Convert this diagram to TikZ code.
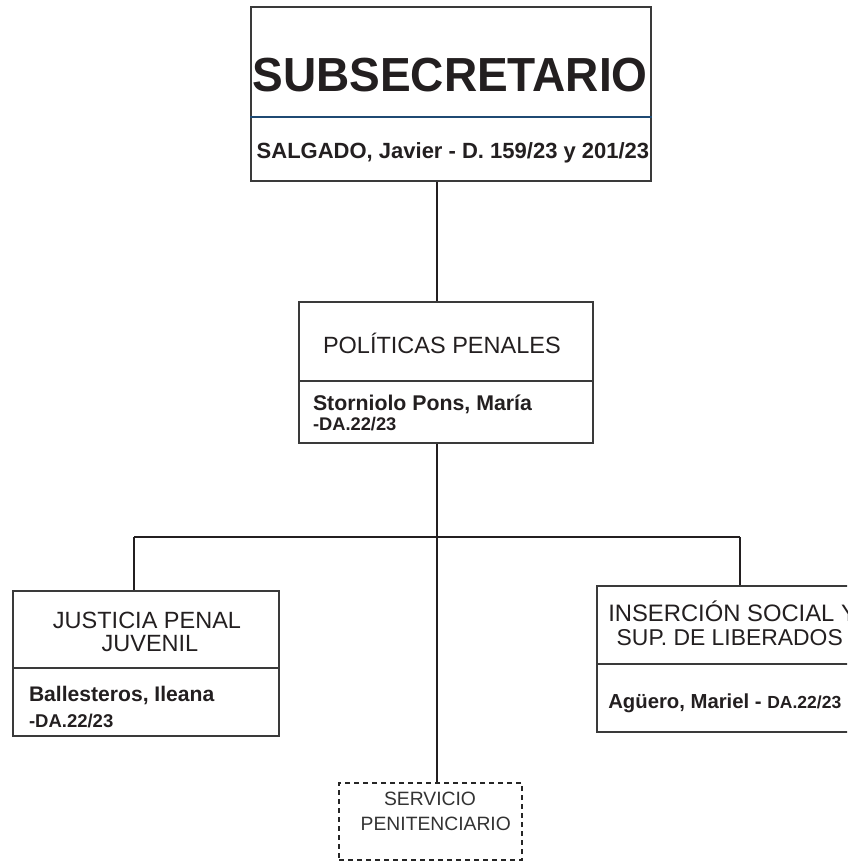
\documentclass[tikz,border=0pt]{standalone}
\usepackage{fontspec}
\setmainfont{Liberation Sans}
\definecolor{txt}{HTML}{231F20}
\definecolor{frame}{HTML}{3A3A3A}
\definecolor{divblue}{HTML}{1F4A73}
\newcommand{\fs}[1]{\fontsize{#1}{#1}\selectfont}
\begin{document}
\begin{tikzpicture}[x=1pt,y=-1pt,
  box/.style={draw=frame, line width=1.1pt, rectangle, inner sep=0pt, fill=white},
  dbox/.style={draw=black!85, line width=1.1pt, dash pattern=on 5pt off 4pt, rectangle, inner sep=0pt},
  conn/.style={draw=txt, line width=1.1pt},
  lbl/.style={inner sep=0pt, outer sep=0pt, text=txt},
  divider/.style={draw=frame, line width=1.1pt}]
\useasboundingbox (0,0) rectangle (847,862);
\clip (0,0) rectangle (847,862);
\fill[white] (0,0) rectangle (847,862);

% boxes
\node[box, minimum width=400pt, minimum height=174pt] (top) at (451,94) {};
\node[box, minimum width=294pt, minimum height=141pt] (mid) at (446,372.5) {};
\node[box, minimum width=266pt, minimum height=145pt] (left) at (146,663.5) {};
\node[box, minimum width=283pt, minimum height=146pt] (right) at (738.5,659) {};
\node[dbox, minimum width=183pt, minimum height=77pt] (serv) at (430.5,821.5) {};

% dividers
\draw[draw=divblue, line width=1.6pt] (top.west |- 0,117) -- (top.east |- 0,117);
\draw[divider] (mid.west |- 0,381) -- (mid.east |- 0,381);
\draw[divider] (left.west |- 0,668) -- (left.east |- 0,668);
\draw[divider] (right.west |- 0,664) -- (right.east |- 0,664);

% connectors
\coordinate (jx) at (437,537);
\coordinate (jl) at (134,537);
\coordinate (jr) at (740,537);
\draw[conn] (top.south -| jx) -- (mid.north -| jx);
\draw[conn] (mid.south -| jx) -- (jx);
\draw[conn] (jl) -- (jr);
\draw[conn] (jl) -- (left.north -| jl);
\draw[conn] (jr) -- (right.north -| jr);
\draw[conn] (jx) -- (serv.north -| jx);

% texts
\node[lbl, anchor=base, font=\fs{46}\bfseries] (t1) at (450,91.7) {\scalebox{1}[1.04]{SUBSECRETARIO}};
\node[lbl, anchor=base, font=\fs{22}\bfseries] (t2) at (453,158.3) {SALGADO, Javier - D. 159/23 y 201/23};

\node[lbl, anchor=base west, font=\fs{23.5}] (m1) at (323,353.3) {POLÍTICAS PENALES};
\node[lbl, anchor=base west, font=\fs{21.3}\bfseries] (m2) at (313,410) {Storniolo Pons, María};
\node[lbl, anchor=base west, font=\fs{18.3}\bfseries] (m3) at (313,430) {-DA.22/23};

\node[lbl, anchor=base, font=\fs{23.5}] (l1) at (147,628) {JUSTICIA PENAL};
\node[lbl, anchor=base, font=\fs{23.5}] (l2) at (150,651) {JUVENIL};
\node[lbl, anchor=base west, font=\fs{21.1}\bfseries] (l3) at (29,701.7) {Ballesteros, Ileana};
\node[lbl, anchor=base west, font=\fs{18.5}\bfseries] (l4) at (29,727) {-DA.22/23};

\node[lbl, anchor=base west, font=\fs{23.8}] (r1) at (608.3,621.7) {INSERCIÓN SOCIAL Y};
\node[lbl, anchor=base west, font=\fs{22.9}] (r2) at (616.7,645) {SUP. DE LIBERADOS};
\node[lbl, anchor=base west, font=\fs{20.3}\bfseries] (r3) at (608.3,708.3) {Agüero, Mariel - {\fs{17.5}DA.22/23}};

\node[lbl, anchor=base, font=\fs{19.3}, text=black!80] (s1) at (430,805.7) {SERVICIO};
\node[lbl, anchor=base, font=\fs{19.3}, text=black!80] (s2) at (435.8,830) {PENITENCIARIO};
\end{tikzpicture}
\end{document}
